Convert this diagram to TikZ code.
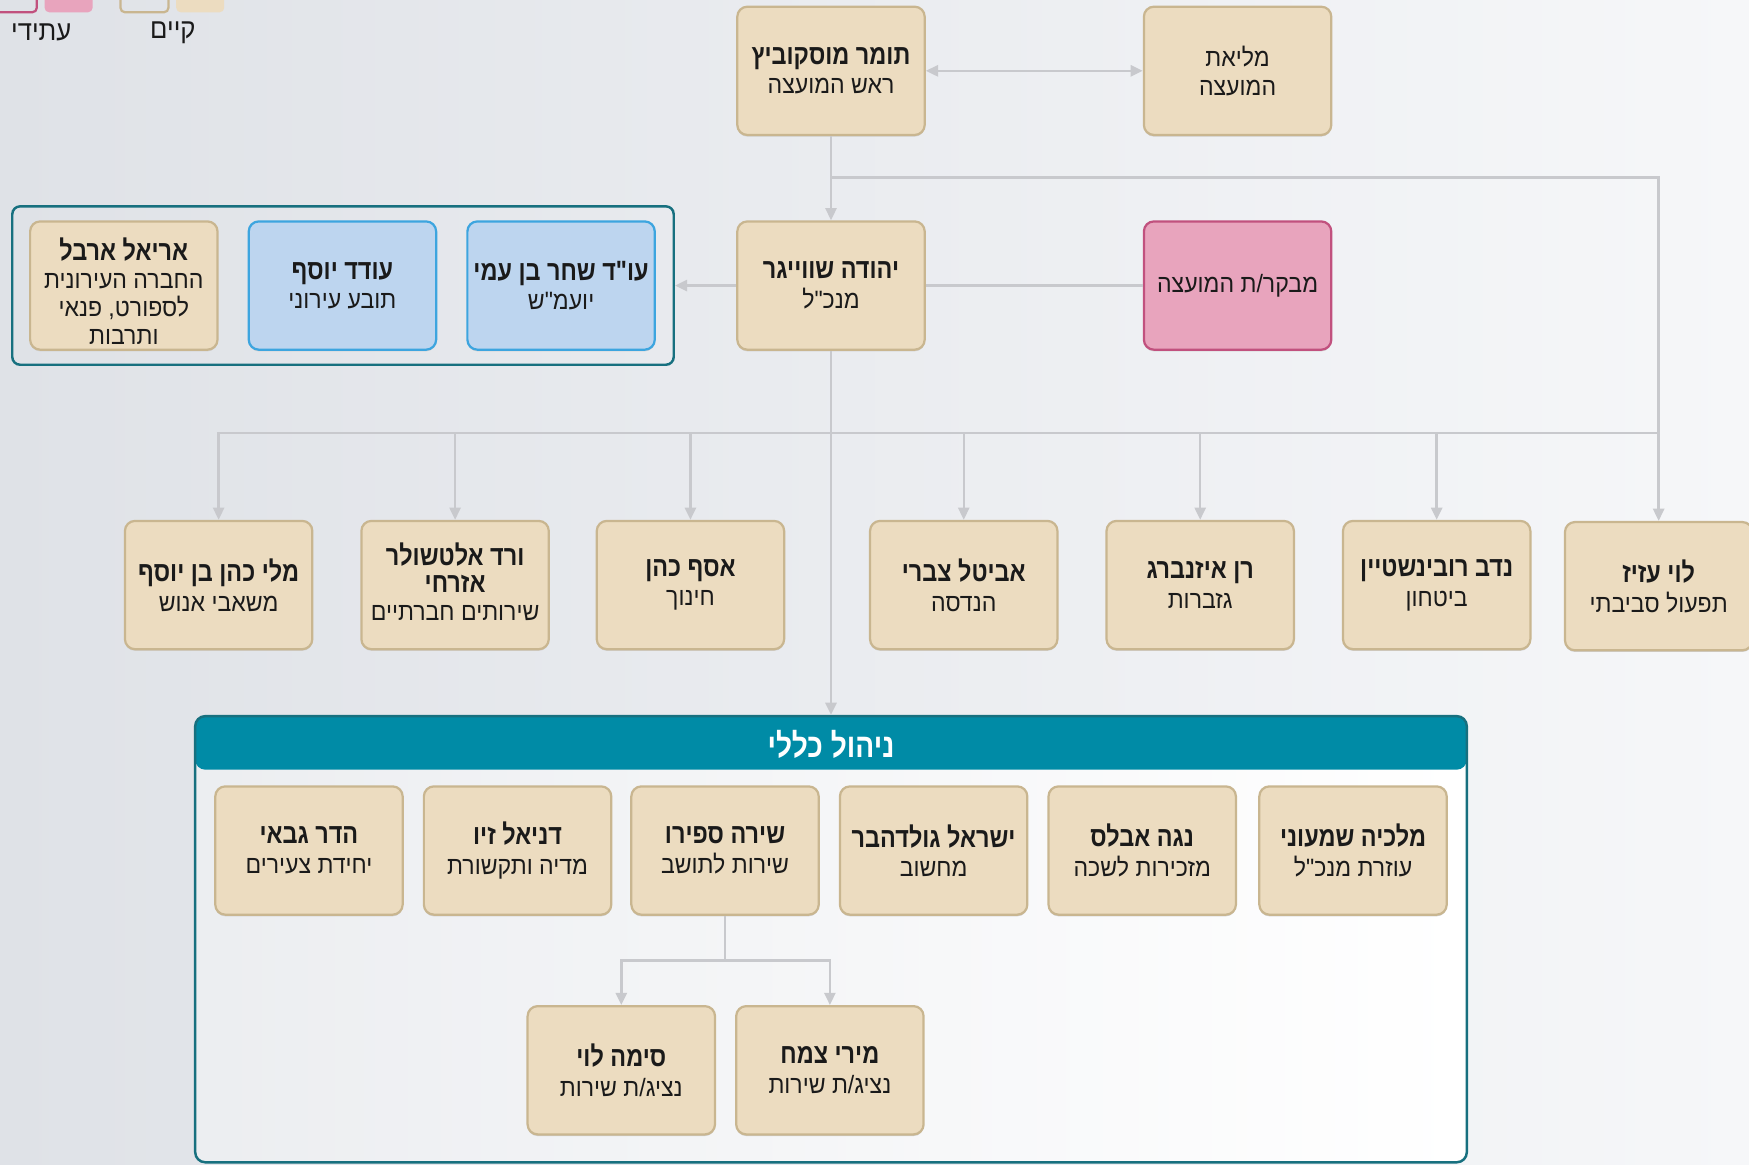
\documentclass[tikz,border=0pt]{standalone}
\usepackage{fontspec}
\setmainfont[Script=Hebrew,FakeStretch=0.92,Ligatures=TeXOff]{Liberation Sans}
\newfontfamily\nmfont[Script=Hebrew,FakeStretch=0.84,Ligatures=TeXOff]{Liberation Sans}
\TeXXeTstate=1
\usetikzlibrary{arrows.meta,shadows}
\definecolor{tanfill}{HTML}{ECDCC0}
\definecolor{tanborder}{HTML}{C9B690}
\definecolor{bluefill}{HTML}{BDD5EF}
\definecolor{blueborder}{HTML}{3DA5DF}
\definecolor{pinkfill}{HTML}{E8A4BD}
\definecolor{pinkborder}{HTML}{C1517E}
\definecolor{headteal}{HTML}{008BA6}
\definecolor{frameteal}{HTML}{17707F}
\definecolor{conngrey}{HTML}{C8C9CD}
\definecolor{txt}{HTML}{1A1A1A}
\definecolor{bgleft}{HTML}{DFE2E7}
\definecolor{bgright}{HTML}{F6F7F9}
\newcommand\hb[1]{\beginR#1\endR}
\newcommand\nm[1]{{\nmfont\fontsize{25}{26.5}\selectfont\bfseries\hb{#1}}}
\newcommand\sbt[1]{\hb{#1}}
\tikzset{
  box/.style={rectangle, rounded corners=9pt, line width=2pt,
    minimum width=168pt, minimum height=115pt, inner sep=2pt, align=center,
    text=txt, font=\fontsize{22.5}{26.5}\selectfont,
    general shadow={fill=black!18, shadow yshift=-1.5pt}},
  tanbox/.style={box, fill=tanfill, draw=tanborder},
  bluebox/.style={box, fill=bluefill, draw=blueborder},
  pinkbox/.style={box, fill=pinkfill, draw=pinkborder},
  conn/.style={draw=conngrey, line width=2.2pt},
  arr/.style={conn, -{Triangle[length=11pt,width=10pt]}},
  darr/.style={conn, {Triangle[length=11pt,width=10pt]}-{Triangle[length=11pt,width=10pt]}},
  legtext/.style={text=txt, font=\fontsize{25}{28}\selectfont, inner sep=0pt},
}
\begin{document}
\begin{tikzpicture}[x=1pt,y=-1pt]
\useasboundingbox (0,0) rectangle (1568,1044);
\shade[left color=bgleft, right color=bgright] (0,0) rectangle (1568,1044);

% legend
\node[draw=pinkborder, line width=2pt, rounded corners=4pt, minimum width=46pt, minimum height=30pt, inner sep=0pt] (legfut) at (10,-4) {};
\node[fill=pinkfill, rounded corners=4pt, minimum width=43pt, minimum height=31pt, inner sep=0pt] (legfutf) at (61.5,-4.5) {};
\node[draw=tanborder, line width=2pt, rounded corners=4pt, minimum width=43pt, minimum height=30pt, inner sep=0pt] (legcur) at (129.5,-4) {};
\node[fill=tanfill, rounded corners=4pt, minimum width=43pt, minimum height=31pt, inner sep=0pt] (legcurf) at (179.5,-4.5) {};
\node[legtext] (legfutt) at (37,29) {\hb{עתידי}};
\node[legtext] (legcurt) at (155,29) {\hb{קיים}};

% left frame
\node[draw=frameteal, line width=2.2pt, rounded corners=7pt, minimum width=593pt, minimum height=142pt, inner sep=0pt] (legal) at (307.5,256) {};

% bottom frame
\node[draw=frameteal, line width=2.2pt, rounded corners=9pt, minimum width=1140pt, minimum height=400pt, inner sep=0pt,
  left color=bgleft!60!white, right color=white,
  path picture={\fill[headteal] (path picture bounding box.north west) rectangle ([yshift=-48pt]path picture bounding box.north east);}] (general) at (745,842) {};
\node[text=white, font=\nmfont\fontsize{30}{32}\selectfont\bfseries, inner sep=0pt] (gentitle) at (745,667) {\hb{ניהול כללי}};

% top rows
\node[tanbox] (tomer) at (745,63.5) {\nm{תומר מוסקוביץ}\\\sbt{ראש המועצה}};
\node[tanbox] (melia) at (1109.5,63.5) {\sbt{מליאת}\\\sbt{המועצה}};
\node[tanbox] (yehuda) at (745,256) {\nm{יהודה שווייגר}\\\sbt{מנכ"ל}};
\node[pinkbox] (mevaker) at (1109.5,256) {\sbt{מבקר/ת המועצה}};
\node[bluebox] (shahar) at (503,256) {\nm{עו"ד שחר בן עמי}\\\sbt{יועמ"ש}};
\node[bluebox] (oded) at (307,256) {\nm{עודד יוסף}\\\sbt{תובע עירוני}};
\node[tanbox, font=\fontsize{22.5}{25}\selectfont, text depth=] (ariel) at (111,256) {};
\node[inner sep=0pt, align=center, text=txt, font=\fontsize{22.5}{25}\selectfont] (arieltext) at (111,261) {\nm{אריאל ארבל}\\\sbt{החברה העירונית}\\\sbt{לספורט, פנאי}\\\sbt{ותרבות}};

% third row
\node[tanbox] (mali) at (196,524.5) {\nm{מלי כהן בן יוסף}\\\sbt{משאבי אנוש}};
\node[tanbox] (vered) at (408,524.5) {};
\node[inner sep=0pt, align=center, text=txt, font=\fontsize{22.5}{25}\selectfont] (veredtext) at (408,521.5) {\nm{ורד אלטשולר}\\\nm{אזרחי}\\\sbt{שירותים חברתיים}};
\node[tanbox] (asaf) at (619,524.5) {\nm{אסף כהן}\\\sbt{חינוך}};
\node[tanbox] (avital) at (864,524.5) {\nm{אביטל צברי}\\\sbt{הנדסה}};
\node[tanbox] (ran) at (1076,524.5) {\nm{רן איזנברג}\\\sbt{גזברות}};
\node[tanbox] (nadav) at (1288,524.5) {\nm{נדב רובינשטיין}\\\sbt{ביטחון}};
\node[tanbox] (levi) at (1487,525.5) {\nm{לוי עזיז}\\\sbt{תפעול סביבתי}};

% general management
\node[tanbox] (hadar) at (277,762.5) {\nm{הדר גבאי}\\\sbt{יחידת צעירים}};
\node[tanbox] (daniel) at (464,762.5) {\nm{דניאל זיו}\\\sbt{מדיה ותקשורת}};
\node[tanbox] (shira) at (650,762.5) {\nm{שירה ספירו}\\\sbt{שירות לתושב}};
\node[tanbox] (israel) at (837,762.5) {\nm{ישראל גולדהבר}\\\sbt{מחשוב}};
\node[tanbox] (noga) at (1024,762.5) {\nm{נגה אבלס}\\\sbt{מזכירות לשכה}};
\node[tanbox] (malkia) at (1213,762.5) {\nm{מלכיה שמעוני}\\\sbt{עוזרת מנכ"ל}};
\node[tanbox] (sima) at (557,959.5) {\nm{סימה לוי}\\\sbt{נציג/ת שירות}};
\node[tanbox] (miri) at (744,959.5) {\nm{מירי צמח}\\\sbt{נציג/ת שירות}};

% connectors
\coordinate (j1) at (745,159);
\coordinate (j2) at (745,388);
\coordinate (j3) at (650,861);
\draw[darr] (tomer.east) -- (melia.west);
\draw[arr] (tomer.south) -- (yehuda.north);
\draw[arr] (j1) -| (levi.north);
\draw[conn] (yehuda.east) -- (mevaker.west);
\draw[arr] (yehuda.west) -- (legal.east);
\draw[arr] (yehuda.south) -- (general.north);
\draw[arr] (j2) -| (mali.north);
\draw[arr] (j2) -| (vered.north);
\draw[arr] (j2) -| (asaf.north);
\draw[arr] (j2) -| (avital.north);
\draw[arr] (j2) -| (ran.north);
\draw[arr] (j2) -| (nadav.north);
\draw[conn] (j2) -- (j2 -| levi.north);
\draw[conn] (shira.south) -- (j3);
\draw[arr] (j3) -| (sima.north);
\draw[arr] (j3) -| (miri.north);
\end{tikzpicture}
\end{document}
